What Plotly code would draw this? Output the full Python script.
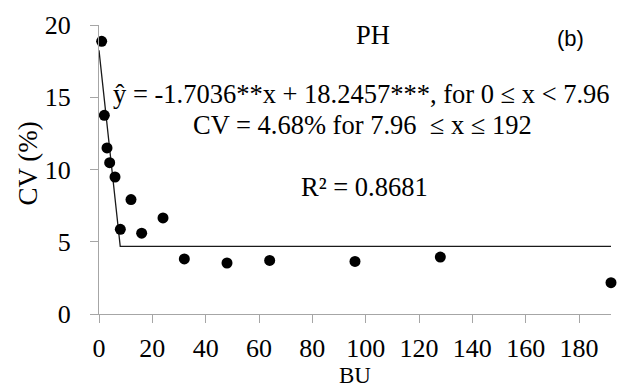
import plotly.graph_objects as go

# Bulk-unit sizes and coefficient of variation for plant height
bu = [1, 2, 3, 4, 6, 8, 12, 16, 24, 32, 48, 64, 96, 128, 192]
cv = [18.87, 13.75, 11.49, 10.47, 9.48, 5.86, 7.92, 5.59, 6.65, 3.81, 3.53, 3.71, 3.64, 3.94, 2.17]

# Linear-plateau fit parameters
slope = -1.7036
intercept = 18.2457
join_x = 7.96
plateau = 4.68
x_max = 192

x_ticks = [0, 20, 40, 60, 80, 100, 120, 140, 160, 180]
y_ticks = [0, 5, 10, 15, 20]

serif = "Liberation Serif, Times New Roman, serif"

fit_x = [0, join_x, x_max]
fit_y = [intercept, intercept + slope * join_x, plateau]

fig = go.Figure()
fig.add_trace(go.Scatter(
    x=fit_x, y=fit_y, mode="lines",
    line=dict(color="#1a1a1a", width=1.3),
    showlegend=False, hoverinfo="skip", cliponaxis=False,
))
fig.add_trace(go.Scatter(
    x=bu, y=cv, mode="markers",
    marker=dict(color="black", size=11),
    showlegend=False, cliponaxis=False,
))

axis_common = dict(
    showgrid=False, zeroline=False, showline=True,
    linecolor="#a6a6a6", linewidth=1.3,
    ticks="outside", ticklen=8, tickwidth=1.3, tickcolor="#a6a6a6",
    tickfont=dict(family=serif, size=26, color="black"),
)

fig.update_layout(
    width=622, height=390,
    margin=dict(l=99, r=11, t=23, b=73),
    paper_bgcolor="white", plot_bgcolor="white",
    xaxis=dict(range=[0, x_max], tickvals=x_ticks, ticklabelstandoff=3,
               title=dict(text="BU", font=dict(family=serif, size=23, color="black"), standoff=0),
               **axis_common),
    yaxis=dict(range=[0, 20], tickvals=y_ticks, ticklabelstandoff=14,
               **axis_common),
)

# Rotated y-axis title
fig.add_annotation(xref="paper", yref="paper", x=-0.139, y=0.52, text="CV (%)",
                   textangle=-90, showarrow=False, xanchor="center", yanchor="middle",
                   font=dict(family=serif, size=27, color="black"))

eq1 = f"ŷ = {slope}**x + {intercept}***, for 0 ≤ x < {join_x}"
eq2 = f"CV = {plateau}% for {join_x}  ≤ x ≤ {x_max}"
r2 = "R² = 0.8681"

text_font = dict(family=serif, size=26.5, color="black")
fig.add_annotation(x=98.4, y=15.23, text=eq1, showarrow=False, font=text_font, xanchor="center", yanchor="middle")
fig.add_annotation(x=98.8, y=13.05, text=eq2, showarrow=False, font=text_font, xanchor="center", yanchor="middle")
fig.add_annotation(x=99.4, y=8.78, text=r2, showarrow=False, font=text_font, xanchor="center", yanchor="middle")
fig.add_annotation(x=102.7, y=19.3, text="PH", showarrow=False, font=text_font, xanchor="center", yanchor="middle")
fig.add_annotation(x=176.7, y=19.05, text="(b)", showarrow=False,
                   font=dict(family="Liberation Sans, Arial, sans-serif", size=22, color="black"),
                   xanchor="center", yanchor="middle")

fig.write_html("out.html")
